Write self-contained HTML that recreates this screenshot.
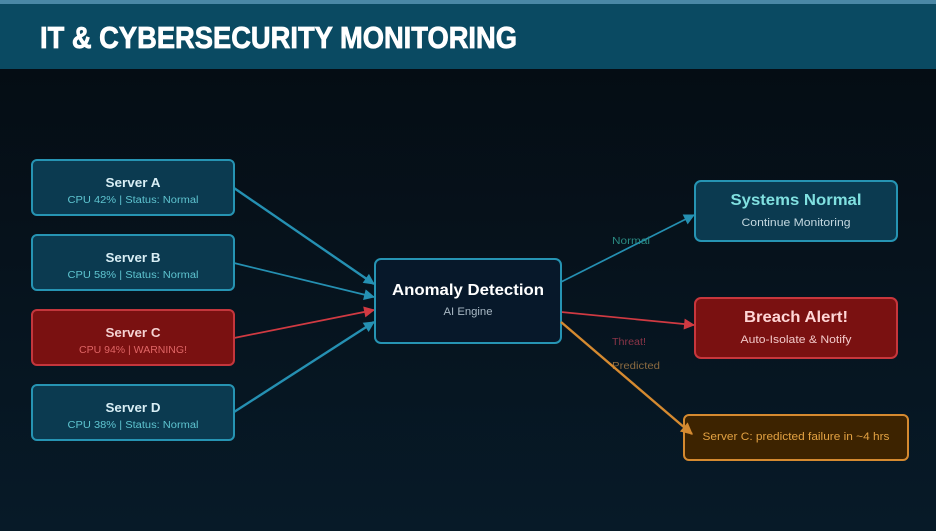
<!DOCTYPE html>
<html><head><meta charset="utf-8"><style>
html,body{margin:0;padding:0;width:936px;height:531px;overflow:hidden;background:#06121b;}
svg{display:block;}
text{font-family:"Liberation Sans",sans-serif;}
</style></head><body>
<svg width="936" height="531" viewBox="0 0 936 531" xmlns="http://www.w3.org/2000/svg">
<defs>
<linearGradient id="bg" x1="0" y1="0" x2="0" y2="1">
<stop offset="0" stop-color="#050d14"/>
<stop offset="1" stop-color="#071a28"/>
</linearGradient>
<marker id="aT" viewBox="0 0 10 10" refX="9" refY="5" markerWidth="12" markerHeight="11" markerUnits="userSpaceOnUse" orient="auto"><path d="M0,0 L10,5 L0,10 z" fill="#2590b2"/></marker>
<marker id="aR" viewBox="0 0 10 10" refX="9" refY="5" markerWidth="12" markerHeight="11" markerUnits="userSpaceOnUse" orient="auto"><path d="M0,0 L10,5 L0,10 z" fill="#d03a42"/></marker>
<marker id="aO" viewBox="0 0 10 10" refX="9" refY="5" markerWidth="13" markerHeight="12" markerUnits="userSpaceOnUse" orient="auto"><path d="M0,0 L10,5 L0,10 z" fill="#d58a30"/></marker>
</defs>
<rect x="0" y="69" width="936" height="462" fill="url(#bg)"/>
<rect x="0" y="0" width="936" height="69" fill="#0a4a62"/>
<rect x="0" y="0" width="936" height="4" fill="#4a88a6"/>
<text x="40" y="48" font-size="31" font-weight="bold" fill="#ffffff" stroke="#ffffff" stroke-width="0.8" textLength="477" lengthAdjust="spacingAndGlyphs">IT &amp; CYBERSECURITY MONITORING</text>

<!-- connectors -->
<line x1="234" y1="188" x2="374" y2="284" stroke="#2590b2" stroke-width="2.4" marker-end="url(#aT)"/>
<line x1="234" y1="263" x2="374" y2="297" stroke="#2590b2" stroke-width="1.7" marker-end="url(#aT)"/>
<line x1="234" y1="338" x2="374" y2="310" stroke="#d03a42" stroke-width="1.7" marker-end="url(#aR)"/>
<line x1="234" y1="412" x2="374" y2="322" stroke="#2590b2" stroke-width="2.4" marker-end="url(#aT)"/>
<line x1="561" y1="282" x2="694" y2="215" stroke="#2590b2" stroke-width="1.7" marker-end="url(#aT)"/>
<line x1="561" y1="312" x2="694" y2="325" stroke="#d03a42" stroke-width="1.7" marker-end="url(#aR)"/>

<text x="612" y="244" font-size="10" fill="#2a8a82" textLength="38" lengthAdjust="spacingAndGlyphs">Normal</text>
<text x="612" y="345" font-size="10" fill="#8a3548" textLength="34" lengthAdjust="spacingAndGlyphs">Threat!</text>
<text x="612" y="369" font-size="10" fill="#8a6a40" textLength="48" lengthAdjust="spacingAndGlyphs">Predicted</text>

<!-- servers -->
<rect x="32" y="160" width="202" height="55" rx="5" fill="#0b3a50" stroke="#2694b3" stroke-width="2"/>
<text x="133" y="187" font-size="13" font-weight="bold" fill="#d8eef5" text-anchor="middle" textLength="55" lengthAdjust="spacingAndGlyphs">Server A</text>
<text x="133" y="203" font-size="10" fill="#5ec4d0" text-anchor="middle" textLength="131" lengthAdjust="spacingAndGlyphs">CPU 42%  |  Status: Normal</text>

<rect x="32" y="235" width="202" height="55" rx="5" fill="#0b3a50" stroke="#2694b3" stroke-width="2"/>
<text x="133" y="262" font-size="13" font-weight="bold" fill="#d8eef5" text-anchor="middle" textLength="55" lengthAdjust="spacingAndGlyphs">Server B</text>
<text x="133" y="278" font-size="10" fill="#5ec4d0" text-anchor="middle" textLength="131" lengthAdjust="spacingAndGlyphs">CPU 58%  |  Status: Normal</text>

<rect x="32" y="310" width="202" height="55" rx="5" fill="#7a1111" stroke="#c4363c" stroke-width="2"/>
<text x="133" y="337" font-size="13" font-weight="bold" fill="#f5d2d2" text-anchor="middle" textLength="55" lengthAdjust="spacingAndGlyphs">Server C</text>
<text x="133" y="353" font-size="10" fill="#e06565" text-anchor="middle" textLength="108" lengthAdjust="spacingAndGlyphs">CPU 94%  |  WARNING!</text>

<rect x="32" y="385" width="202" height="55" rx="5" fill="#0b3a50" stroke="#2694b3" stroke-width="2"/>
<text x="133" y="412" font-size="13" font-weight="bold" fill="#d8eef5" text-anchor="middle" textLength="55" lengthAdjust="spacingAndGlyphs">Server D</text>
<text x="133" y="428" font-size="10" fill="#5ec4d0" text-anchor="middle" textLength="131" lengthAdjust="spacingAndGlyphs">CPU 38%  |  Status: Normal</text>

<!-- anomaly -->
<rect x="375" y="259" width="186" height="84" rx="6" fill="#07182a" stroke="#2694b3" stroke-width="2"/>
<text x="468" y="295" font-size="16" font-weight="bold" fill="#ffffff" text-anchor="middle" textLength="152" lengthAdjust="spacingAndGlyphs">Anomaly Detection</text>
<text x="468" y="315" font-size="11" fill="#a8b8c4" text-anchor="middle" textLength="49" lengthAdjust="spacingAndGlyphs">AI Engine</text>

<!-- outputs -->
<rect x="695" y="181" width="202" height="60" rx="6" fill="#0b3a50" stroke="#2694b3" stroke-width="2"/>
<text x="796" y="205" font-size="16" font-weight="bold" fill="#80e0e0" text-anchor="middle" textLength="131" lengthAdjust="spacingAndGlyphs">Systems Normal</text>
<text x="796" y="226" font-size="11" fill="#c4d8e0" text-anchor="middle" textLength="109" lengthAdjust="spacingAndGlyphs">Continue Monitoring</text>

<rect x="695" y="298" width="202" height="60" rx="6" fill="#7a1111" stroke="#c8363c" stroke-width="2"/>
<text x="796" y="322" font-size="16" font-weight="bold" fill="#ffd6d6" text-anchor="middle" textLength="104" lengthAdjust="spacingAndGlyphs">Breach Alert!</text>
<text x="796" y="343" font-size="11" fill="#f2c8c8" text-anchor="middle" textLength="111" lengthAdjust="spacingAndGlyphs">Auto-Isolate &amp; Notify</text>

<rect x="684" y="415" width="224" height="45" rx="5" fill="#3d2300" stroke="#d58a30" stroke-width="2"/>
<text x="796" y="440" font-size="11" fill="#e3a242" text-anchor="middle" textLength="187" lengthAdjust="spacingAndGlyphs">Server C: predicted failure in ~4 hrs</text>

<line x1="561" y1="322" x2="692" y2="434" stroke="#d58a30" stroke-width="2.4" marker-end="url(#aO)"/>
</svg>
</body></html>
